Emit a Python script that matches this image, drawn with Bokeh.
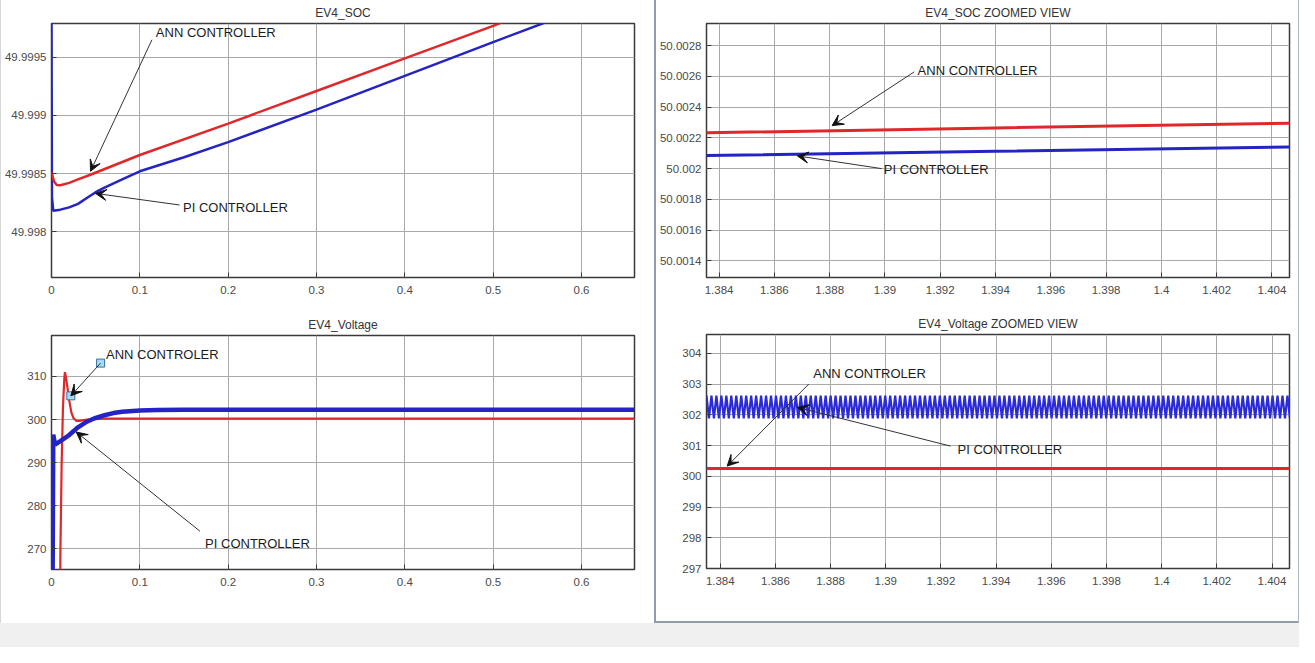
import numpy as np
from bokeh.plotting import figure
from bokeh.models import FixedTicker, Arrow, VeeHead, Label, Div
from bokeh.layouts import row, column
from bokeh.embed import file_html
from bokeh.resources import INLINE

# ---------------- DATA ----------------
# EV4_SOC (full view)
soc_t_ann = [0.0, 0.003, 0.006, 0.01, 0.02, 0.03, 0.044, 0.1, 0.2, 0.3, 0.4, 0.5, 0.52]
soc_ann = [49.99851, 49.99843, 49.998402, 49.99840, 49.99842, 49.99845, 49.99849,
           49.99866, 49.99893, 49.99921, 49.99949, 49.99977, 49.99983]
soc_t_pi = [0.0, 0.0005, 0.002, 0.01, 0.02, 0.03, 0.04, 0.05, 0.06, 0.08, 0.1, 0.15,
            0.2, 0.3, 0.4, 0.5, 0.57]
soc_pi = [49.99980, 49.99830, 49.99818, 49.99819, 49.99821, 49.99824, 49.99829, 49.99834,
          49.99838, 49.99845, 49.99852, 49.99864, 49.99877, 49.99905, 49.99934, 49.99963,
          49.99983]

# EV4_SOC zoomed view
zsoc_t = [1.3835, 1.394, 1.4047]
zsoc_ann = [50.002233, 50.002265, 50.002296]
zsoc_pi = [50.002085, 50.002113, 50.002141]

# EV4_Voltage (full view)
v_t_ann = [0.0, 0.0092, 0.0100, 0.0115, 0.0130, 0.0145, 0.0152, 0.0162, 0.018, 0.020,
           0.0225, 0.025, 0.028, 0.032, 0.04, 0.06, 0.66]
v_ann = [0, 0, 268, 290, 303, 309.5, 311, 310, 307.5, 304.5, 301.6, 300.3, 299.7, 299.7,
         300.0, 300.2, 300.2]
v_t_pi = [0.0, 0.0012, 0.002, 0.004, 0.01, 0.02, 0.03, 0.04, 0.05, 0.06, 0.07, 0.08, 0.1,
          0.12, 0.15, 0.2, 0.66]
v_pi = [0, 260, 296.5, 294.2, 295.0, 296.4, 298.2, 299.5, 300.4, 301.0, 301.5, 301.8,
        302.1, 302.2, 302.25, 302.25, 302.25]

# EV4_Voltage zoomed view
zv_t = [1.3835, 1.4047]
zv_ann = [300.25, 300.25]
zv_pi_high = 302.62      # ripple crest
zv_pi_low = 301.88       # ripple trough
zv_pi_period = 0.00018   # ripple period

# tick labels
x_full_ticks = [0.0, 0.1, 0.2, 0.3, 0.4, 0.5, 0.6]
x_full_labels = ["0", "0.1", "0.2", "0.3", "0.4", "0.5", "0.6"]
x_zoom_ticks = [1.384, 1.386, 1.388, 1.39, 1.392, 1.394, 1.396, 1.398, 1.4, 1.402, 1.404]
x_zoom_labels = ["1.384", "1.386", "1.388", "1.39", "1.392", "1.394", "1.396", "1.398",
                 "1.4", "1.402", "1.404"]
y_soc_ticks = [49.998, 49.9985, 49.999, 49.9995]
y_soc_labels = ["49.998", "49.9985", "49.999", "49.9995"]
y_zsoc_ticks = [50.0014, 50.0016, 50.0018, 50.002, 50.0022, 50.0024, 50.0026, 50.0028]
y_zsoc_labels = ["50.0014", "50.0016", "50.0018", "50.002", "50.0022", "50.0024",
                 "50.0026", "50.0028"]
y_v_ticks = [270, 280, 290, 300, 310]
y_v_labels = ["270", "280", "290", "300", "310"]
y_zv_ticks = [297, 298, 299, 300, 301, 302, 303, 304]
y_zv_labels = ["297", "298", "299", "300", "301", "302", "303", "304"]

# annotations: (text, text_x, text_y, tail_x, tail_y, head_x, head_y)
ann_soc = [("ANN CONTROLLER", 0.1181, 49.999709, 0.1137, 49.99965, 0.0442, 49.99852),
           ("PI CONTROLLER", 0.1489, 49.998207, 0.145, 49.99823, 0.0498, 49.99833)]
ann_zsoc = [("ANN CONTROLLER", 1.39118, 50.002642, 1.39106, 50.00263, 1.38809, 50.00228),
            ("PI CONTROLLER", 1.38996, 50.001993, 1.38988, 50.00200, 1.38683, 50.002083)]
ann_v = [("ANN CONTROLER", 0.0617, 315.2, 0.0556, 313.1, 0.0219, 305.5),
         ("PI CONTROLLER", 0.1739, 271.2, 0.168, 274.1, 0.028, 297.1)]
ann_zv = [("ANN CONTROLER", 1.38737, 303.35, 1.38721, 303.0, 1.38425, 300.33),
          ("PI CONTROLLER", 1.39260, 300.87, 1.39235, 300.98, 1.3868, 302.24)]
datatip_x = [0.0556, 0.0219]
datatip_y = [313.1, 305.5]

RED = "#e0282b"
BLUE = "#2424c4"
FONT = "Liberation Sans"


def make_fig(title, w, h, xr, yr, mb):
    p = figure(width=w, height=h, x_range=xr, y_range=yr, output_backend="svg",
               toolbar_location=None, title=title,
               min_border_left=mb[0], min_border_right=mb[1],
               min_border_top=mb[2], min_border_bottom=mb[3])
    p.title.text_font = FONT
    p.title.text_font_size = "12px"
    p.title.text_font_style = "normal"
    p.title.text_color = "#333333"
    p.title.align = "center"
    p.title.standoff = 7
    p.background_fill_color = "white"
    p.border_fill_color = "white"
    p.outline_line_color = "#3a3a3a"
    p.outline_line_width = 1.5
    return p


def style(p, xt, xl, yt, yl):
    p.xaxis.ticker = FixedTicker(ticks=xt)
    p.xaxis.major_label_overrides = dict(zip(xt, xl))
    p.yaxis.ticker = FixedTicker(ticks=yt)
    p.yaxis.major_label_overrides = dict(zip(yt, yl))
    for ax in p.axis:
        ax.axis_line_color = None
        ax.major_tick_in = 5
        ax.major_tick_out = 0
        ax.major_tick_line_color = "#3a3a3a"
        ax.minor_tick_line_color = None
        ax.major_label_text_font = FONT
        ax.major_label_text_font_size = "11.5px"
        ax.major_label_text_color = "#4a4a4a"
    p.xaxis.major_label_standoff = 8
    p.yaxis.major_label_standoff = 5
    p.grid.grid_line_color = "#a9a9a9"
    p.grid.grid_line_width = 1


def annotate(p, items):
    for txt, tx, ty, x0, y0, x1, y1 in items:
        p.add_layout(Arrow(end=VeeHead(size=11, fill_color="#111111", line_color="#111111"),
                           x_start=x0, y_start=y0, x_end=x1, y_end=y1,
                           line_color="#333333", line_width=1))
        p.add_layout(Label(x=tx, y=ty, text=txt, text_font=FONT, text_font_size="13px",
                           text_baseline="middle", text_align="left", text_color="#1c1c1c"))


# ---- top-left: EV4_SOC
p_tl = make_fig("EV4_SOC", 653, 306, (0, 0.66), (49.997607, 49.99979), (45, 20, 23, 29))
style(p_tl, x_full_ticks, x_full_labels, y_soc_ticks, y_soc_labels)
p_tl.line(soc_t_pi, soc_pi, line_color=BLUE, line_width=2.5)
p_tl.line(soc_t_ann, soc_ann, line_color=RED, line_width=2.5)
annotate(p_tl, ann_soc)

# ---- top-right: EV4_SOC ZOOMED VIEW
p_tr = make_fig("EV4_SOC ZOOMED VIEW", 642, 306, (1.383545, 1.404634), (50.001291, 50.002945),
                (44, 9, 23, 29))
style(p_tr, x_zoom_ticks, x_zoom_labels, y_zsoc_ticks, y_zsoc_labels)
p_tr.line(zsoc_t, zsoc_ann, line_color=RED, line_width=3)
p_tr.line(zsoc_t, zsoc_pi, line_color=BLUE, line_width=3)
annotate(p_tr, ann_zsoc)

# ---- bottom-left: EV4_Voltage
p_bl = make_fig("EV4_Voltage", 653, 317, (0, 0.66), (265.2, 319.5), (41, 19, 29, 54))
style(p_bl, x_full_ticks, x_full_labels, y_v_ticks, y_v_labels)
p_bl.line(v_t_ann, v_ann, line_color=RED, line_width=2.2)
p_bl.line(v_t_pi, v_pi, line_color=BLUE, line_width=4.5)
annotate(p_bl, ann_v)
p_bl.scatter(datatip_x, datatip_y, marker="square", size=8, fill_color="#a9dcf2",
             line_color="#2f6f9f", line_width=1)

# ---- bottom-right: EV4_Voltage ZOOMED VIEW
half = zv_pi_period / 2
n_pts = int((zv_t[1] - zv_t[0]) / half) + 2
rip_t = zv_t[0] + np.arange(n_pts) * half
rip_v = np.where(np.arange(n_pts) % 2 == 0, zv_pi_high, zv_pi_low)
p_br = make_fig("EV4_Voltage ZOOMED VIEW", 642, 315, (1.383501, 1.404634), (297.0, 304.61),
                (39, 9, 28, 53))
style(p_br, x_zoom_ticks, x_zoom_labels, y_zv_ticks, y_zv_labels)
p_br.line(rip_t, rip_v, line_color="#2b2bd8", line_width=2.2)
p_br.line(zv_t, zv_ann, line_color=RED, line_width=3)
annotate(p_br, ann_zv)


def bar(w, h, color, **extra):
    st = {"background-color": color}
    st.update(extra)
    return Div(text="", width=w, height=h, margin=0, styles=st)


left_col = column(p_tl, p_bl, spacing=0)
right_col = column(p_tr, p_br, bar(642, 2, "#8e9cab"), spacing=0)
main = row(bar(1, 623, "#d6d6d6"), left_col, bar(2, 623, "#8e9cab"), right_col,
           bar(1, 623, "#a9b5c0"), spacing=0)
root = column(main, bar(1299, 24, "#f0f0f0"), spacing=0)

open("out.html", "w").write(file_html(root, INLINE))
